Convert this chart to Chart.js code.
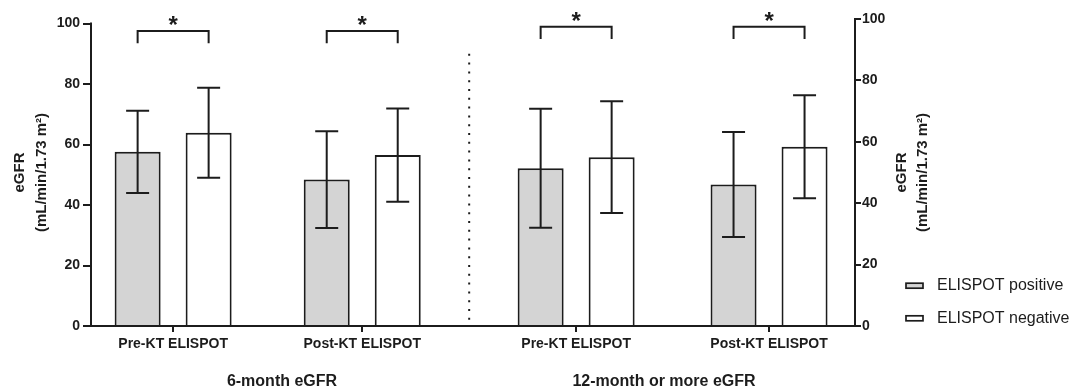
<!DOCTYPE html>
<html>
<head>
<meta charset="utf-8">
<script src="https://cdn.jsdelivr.net/npm/chart.js@4.4.0/dist/chart.umd.min.js"></script>
<style>
    body { margin: 0; background: #fff; }
    #chart { display: block; }
</style>
</head>
<body>
<canvas id="chart" width="1069" height="391"></canvas>
<script>
// values (mean and SD, eGFR in mL/min/1.73 m2)
var categories = ['Pre-KT ELISPOT', 'Post-KT ELISPOT', 'Pre-KT ELISPOT', 'Post-KT ELISPOT'];
var groups = ['6-month eGFR', '12-month or more eGFR'];
var categoryGroup = [0, 0, 1, 1];
var categoryX = [0.43, 1.42, 2.54, 3.55];
var seriesNames = ['ELISPOT positive', 'ELISPOT negative'];
var positiveMean = [57.6, 48.4, 51.4, 46.1];
var positiveSD = [13.6, 16.0, 19.4, 17.1];
var negativeMean = [63.9, 56.5, 55.0, 58.4];
var negativeSD = [14.9, 15.4, 18.2, 16.8];
var significance = ['*', '*', '*', '*'];

var ink = '#1c1c1c';
var grey = '#d4d4d4';
var fontFamily = '"Liberation Sans", Arial, sans-serif';

Chart.defaults.font.family = fontFamily;
Chart.defaults.color = ink;

function points(values, group) {
    return values.map(function (v, i) {
        return { x: categoryX[i], y: categoryGroup[i] === group ? v : null };
    });
}

function makeDataset(name, values, sd, group, fill) {
    return {
        label: name,
        data: points(values, group),
        sd: sd,
        yAxisID: group === 0 ? 'y' : 'y2',
        backgroundColor: fill,
        borderColor: ink,
        borderWidth: 2,
        categoryPercentage: 0.751,
        barPercentage: 0.648,
        skipNull: true
    };
}

// error bars, brackets, divider, right title and legend
var extras = {
    id: 'extras',
    afterDatasetsDraw: function (chart) {
        var ctx = chart.ctx;
        var area = chart.chartArea;
        var xs = chart.scales.x;
        var yl = chart.scales.y;
        ctx.save();
        ctx.strokeStyle = ink;
        ctx.fillStyle = ink;
        ctx.lineWidth = 2;
        ctx.lineJoin = 'miter';
        ctx.lineCap = 'butt';

        // left axis line stops at 100
        ctx.beginPath();
        ctx.moveTo(area.left, yl.getPixelForValue(0) + 1);
        ctx.lineTo(area.left, yl.getPixelForValue(100) - 1);
        ctx.stroke();

        chart.data.datasets.forEach(function (ds, di) {
            var meta = chart.getDatasetMeta(di);
            var ys = chart.scales[ds.yAxisID];
            meta.data.forEach(function (bar, i) {
                var m = ds.data[i].y;
                if (m === null) return;
                var hi = ys.getPixelForValue(m + ds.sd[i]);
                var lo = ys.getPixelForValue(m - ds.sd[i]);
                ctx.beginPath();
                ctx.moveTo(bar.x, hi);
                ctx.lineTo(bar.x, lo);
                ctx.moveTo(bar.x - 11.5, hi);
                ctx.lineTo(bar.x + 11.5, hi);
                ctx.moveTo(bar.x - 11.5, lo);
                ctx.lineTo(bar.x + 11.5, lo);
                ctx.stroke();
            });
        });

        categories.forEach(function (c, i) {
            var g = categoryGroup[i];
            var ys = chart.scales[g === 0 ? 'y' : 'y2'];
            var a = chart.getDatasetMeta(g * 2).data[i];
            var b = chart.getDatasetMeta(g * 2 + 1).data[i];
            var top = ys.getPixelForValue(97.5);
            var foot = ys.getPixelForValue(93.5);
            ctx.beginPath();
            ctx.moveTo(a.x, foot);
            ctx.lineTo(a.x, top);
            ctx.lineTo(b.x, top);
            ctx.lineTo(b.x, foot);
            ctx.stroke();
            ctx.font = 'bold 24px ' + fontFamily;
            ctx.textAlign = 'center';
            ctx.textBaseline = 'alphabetic';
            ctx.fillText(significance[i], (a.x + b.x) / 2, top + 2);
        });

        // dotted divider between the two panels
        var xm = (xs.getPixelForValue(categoryX[1]) + xs.getPixelForValue(categoryX[2])) / 2;
        ctx.setLineDash([2, 6.8]);
        ctx.beginPath();
        ctx.moveTo(xm, yl.getPixelForValue(90));
        ctx.lineTo(xm, area.bottom - 2);
        ctx.stroke();
        ctx.setLineDash([]);

        // right axis title, reads bottom to top like the left one
        var cy = (area.top + area.bottom) / 2;
        ctx.font = 'bold 15px ' + fontFamily;
        ctx.textAlign = 'center';
        ctx.textBaseline = 'middle';
        [['eGFR', 47], ['(mL/min/1.73 m\u00b2)', 68]].forEach(function (t) {
            ctx.save();
            ctx.translate(area.right + t[1], cy);
            ctx.rotate(-Math.PI / 2);
            ctx.fillText(t[0], 0, 0);
            ctx.restore();
        });

        // legend
        ctx.font = '16px ' + fontFamily;
        ctx.textAlign = 'left';
        ctx.lineWidth = 1.7;
        for (var k = 0; k < 2; k++) {
            var ds = chart.data.datasets[k];
            var ly = area.bottom - 40.3 + k * 32.6;
            ctx.fillStyle = ds.backgroundColor;
            ctx.fillRect(area.right + 51, ly - 2.5, 17, 5);
            ctx.strokeRect(area.right + 51, ly - 2.5, 17, 5);
            ctx.fillStyle = ink;
            ctx.fillText(ds.label, area.right + 82, ly);
        }
        ctx.restore();
    }
};

var ctx = document.getElementById('chart').getContext('2d');
var myChart = new Chart(ctx, {
    type: 'bar',
    data: {
        datasets: [
            makeDataset(seriesNames[0], positiveMean, positiveSD, 0, grey),
            makeDataset(seriesNames[1], negativeMean, negativeSD, 0, '#ffffff'),
            makeDataset(seriesNames[0], positiveMean, positiveSD, 1, grey),
            makeDataset(seriesNames[1], negativeMean, negativeSD, 1, '#ffffff')
        ]
    },
    options: {
        responsive: false,
        devicePixelRatio: 1,
        animation: false,
        events: [],
        layout: { padding: { top: 19, left: 0, right: 0, bottom: 0 } },
        plugins: {
            legend: { display: false },
            tooltip: { enabled: false }
        },
        scales: {
            x: {
                type: 'linear',
                position: 'bottom',
                weight: 0,
                min: 0,
                max: 4,
                offset: false,
                grid: { offset: false, drawOnChartArea: false, tickLength: 6, color: ink, lineWidth: 2 },
                border: { display: true, color: ink, width: 2 },
                ticks: {
                    autoSkip: false,
                    maxRotation: 0,
                    padding: 4,
                    font: { size: 14, weight: 'bold' },
                    callback: function (value, index) { return categories[index]; }
                },
                afterBuildTicks: function (scale) {
                    scale.ticks = categoryX.map(function (v) { return { value: v }; });
                },
                afterFit: function (scale) { scale.height = 26; }
            },
            xg: {
                type: 'category',
                position: 'bottom',
                weight: 1,
                labels: groups,
                offset: true,
                grid: { display: false, drawTicks: false },
                border: { display: false },
                ticks: { padding: 20, font: { size: 16, weight: 'bold' } },
                afterFit: function (scale) { scale.height = 39; }
            },
            y: {
                position: 'left',
                min: 0,
                max: 101.5,
                grid: { drawOnChartArea: false, tickLength: 8, color: ink, lineWidth: 2 },
                border: { display: false },
                ticks: { stepSize: 20, includeBounds: false, padding: 3, font: { size: 14, weight: 'bold' } },
                title: {
                    display: true,
                    text: ['eGFR', '(mL/min/1.73 m\u00b2)'],
                    font: { size: 15, weight: 'bold', lineHeight: 1.467 },
                    padding: { top: 9, bottom: 0 }
                },
                afterFit: function (scale) { scale.width = 91; }
            },
            y2: {
                position: 'right',
                min: 0,
                max: 100,
                grid: { drawOnChartArea: false, tickLength: 6, color: ink, lineWidth: 2 },
                border: { display: true, color: ink, width: 2 },
                ticks: { stepSize: 20, padding: 1, font: { size: 14, weight: 'bold' } },
                afterFit: function (scale) { scale.width = 214; }
            }
        }
    },
    plugins: [extras]
});
</script>
</body>
</html>
